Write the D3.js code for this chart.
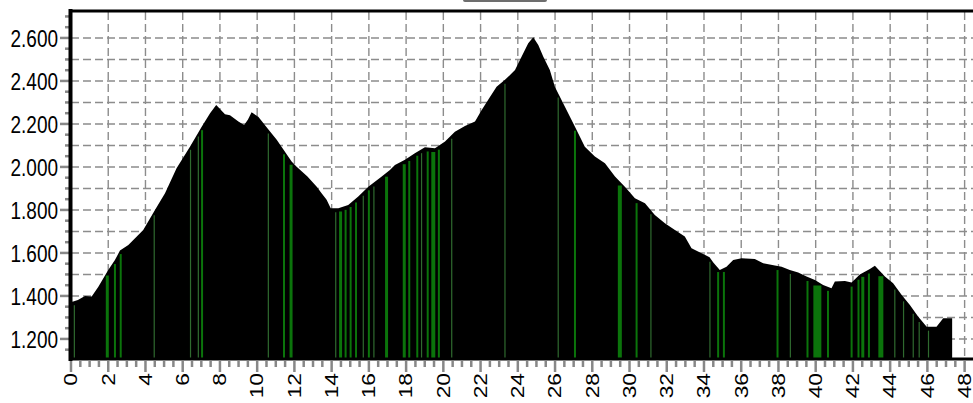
<!DOCTYPE html>
<html>
<head>
<meta charset="utf-8">
<script src="https://cdn.jsdelivr.net/npm/d3@7"></script>
<style>
html,body{margin:0;padding:0;background:#fff;}
svg{display:block;}
</style>
</head>
<body>
<svg id="chart" width="973" height="403"></svg>
<script>
// distance (km) along route
const distanceKm = [0,0.12,0.37,0.75,1.11,1.47,2.0,2.36,2.63,3.08,3.44,3.88,4.51,5.05,5.67,6.39,7.02,7.47,7.8,8.27,8.54,8.99,9.3,9.5,9.7,10.06,10.55,11.05,11.5,11.85,12.12,12.7,13.2,13.46,13.73,13.95,14.36,14.89,15.43,15.97,16.69,17.13,17.4,17.94,18.47,19.01,19.55,20.09,20.62,21.16,21.7,22.06,22.41,22.86,23.31,23.85,24.2,24.56,24.83,25.1,25.37,25.72,25.99,26.53,27.07,27.6,28.14,28.68,29.22,29.75,30.29,30.83,31.36,31.9,32.44,32.97,33.33,33.87,34.3,34.5,34.85,35.21,35.57,36.02,36.73,37.18,37.81,38.17,38.61,39.06,39.51,39.96,40.4,40.85,41.03,41.57,41.93,42.37,42.91,43.18,43.72,44.16,44.61,45.06,45.5,45.96,46.49,46.85,47.33];
// elevation (m)
const elevationM = [1372,1374,1381,1400,1397,1443,1521,1567,1611,1637,1668,1707,1800,1878,1994,2094,2187,2250,2288,2245,2240,2211,2195,2219,2254,2234,2180,2126,2070,2025,2001,1955,1908,1878,1847,1808,1808,1823,1862,1908,1955,1986,2009,2033,2064,2092,2087,2118,2164,2191,2211,2265,2312,2373,2405,2451,2513,2575,2603,2567,2513,2451,2373,2280,2187,2094,2048,2017,1955,1908,1854,1831,1777,1738,1707,1676,1622,1599,1580,1555,1521,1536,1567,1575,1572,1552,1541,1536,1521,1509,1490,1474,1451,1436,1467,1470,1462,1500,1525,1540,1490,1459,1405,1358,1304,1257,1257,1296,1296];
// green marker positions (km) and their widths class
const markerKm = [0.18,1.95,2.36,2.67,4.47,6.42,6.84,7.04,10.6,11.44,11.82,14.22,14.48,14.75,15.02,15.31,15.7,16.0,16.27,16.95,17.9,18.17,18.6,18.83,19.16,19.46,19.76,20.45,23.31,26.17,27.07,29.48,30.38,31.15,34.32,34.76,35.07,37.95,38.64,39.56,40.09,40.66,41.93,42.3,42.53,42.86,43.5,44.25,44.72,45.24,45.56,46.06];
const markerWeight = [1,3,2,2,1,1,1,2,1,2,3,1,3,2,2,2,1,2,1,3,3,2,2,1,2,4,2,1,1,1,2,4,2,1,1,2,2,2,1,2,8,2,2,2,3,2,5,1,1,1,1,1];
// axis ticks
const xTickLabels = d3.range(0, 49, 2);
const yTickLabels = [1200,1400,1600,1800,2000,2200,2400,2600];
const yGrid = d3.range(1200, 2601, 100);

const svg = d3.select("#chart");
const x = d3.scaleLinear().domain([0, 48.45]).range([71, 973]);
const y = d3.scaleLinear().domain([1102, 2730]).range([360, 10]);

const loc = d3.formatLocale({decimal: ",", thousands: ".", grouping: [3], currency: ["", ""]});
const fmt = loc.format(",");

// grid
const grid = svg.append("g").attr("stroke", "#8c8c8c").attr("stroke-width", 1.4).attr("stroke-dasharray", "8,4");
grid.selectAll("line.h").data(yGrid).join("line").attr("class", "h")
  .attr("x1", x(0)).attr("x2", 973).attr("y1", d => y(d)).attr("y2", d => y(d));
grid.selectAll("line.v").data(xTickLabels.filter(d => d > 0)).join("line").attr("class", "v")
  .attr("x1", d => x(d)).attr("x2", d => x(d)).attr("y1", 12).attr("y2", 360);

// area
const data = distanceKm.map((d, i) => ({km: d, ele: elevationM[i]}));
const area = d3.area().x(d => x(d.km)).y0(y(1102)).y1(d => y(d.ele));
svg.append("path").datum(data).attr("d", area).attr("fill", "#000");

// markers
const interp = km => {
  const i = d3.bisector(d => d.km).right(data, km);
  const a = data[Math.max(0, i - 1)], b = data[Math.min(data.length - 1, i)];
  const t = b.km === a.km ? 0 : (km - a.km) / (b.km - a.km);
  return a.ele + t * (b.ele - a.ele);
};
svg.append("g").selectAll("line").data(markerKm).join("line")
  .attr("x1", d => x(d)).attr("x2", d => x(d))
  .attr("y1", y(1108)).attr("y2", d => y(interp(d)) + 4)
  .attr("stroke", (d, i) => markerWeight[i] > 1 ? "#0b740b" : "#2f6a2f")
  .attr("stroke-width", (d, i) => markerWeight[i] === 1 ? 1.2 : markerWeight[i]);

// x axis line and ticks
svg.append("line").attr("x1", x(0)).attr("x2", 973).attr("y1", 359).attr("y2", 359)
  .attr("stroke", "#000").attr("stroke-width", 3);
const xMinor = d3.range(0, 48.01, 0.5);
svg.append("g").selectAll("line").data(xMinor).join("line")
  .attr("x1", d => x(d)).attr("x2", d => x(d))
  .attr("y1", 361).attr("y2", d => (Math.abs(d % 2) < 1e-6) ? 372 : 367)
  .attr("stroke", "#888").attr("stroke-width", 2.5);

svg.append("g").selectAll("text").data(xTickLabels).join("text")
  .attr("transform", d => `translate(${x(d)},373) scale(1,1.3) rotate(-90)`)
  .attr("text-anchor", "end").attr("dy", "0.36em")
  .attr("font-family", "Liberation Sans, Arial, sans-serif").attr("font-size", 17.5)
  .attr("fill", "#000").text(d => d);

// y axis ticks
const yMinor = d3.range(1150, 2701, 50);
svg.append("g").selectAll("line").data(yMinor).join("line")
  .attr("x1", d => (d % 200 === 0) ? 60 : 65).attr("x2", 70)
  .attr("y1", d => y(d)).attr("y2", d => y(d))
  .attr("stroke", "#888").attr("stroke-width", 2.5);
svg.append("g").selectAll("text").data(yTickLabels).join("text")
  .attr("transform", d => `translate(58,${y(d)}) scale(1,1.3)`)
  .attr("text-anchor", "end").attr("dy", "0.36em")
  .attr("font-family", "Liberation Sans, Arial, sans-serif").attr("font-size", 19)
  .attr("fill", "#000").text(d => fmt(d));

// frame lines
svg.append("line").attr("x1", 70.5).attr("x2", 70.5).attr("y1", 9).attr("y2", 361)
  .attr("stroke", "#000").attr("stroke-width", 4);
svg.append("line").attr("x1", 69).attr("x2", 973).attr("y1", 11).attr("y2", 11)
  .attr("stroke", "#000").attr("stroke-width", 3.2);

// title box edge at top
svg.append("rect").attr("x", 464).attr("y", -20).attr("width", 82).attr("height", 21)
  .attr("fill", "#fff").attr("stroke", "#6e6e6e").attr("stroke-width", 2).attr("rx", 1);
</script>
</body>
</html>
